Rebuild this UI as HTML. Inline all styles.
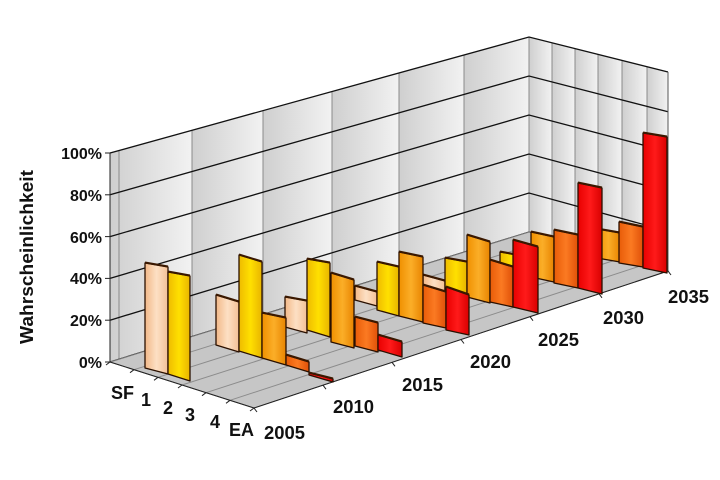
<!DOCTYPE html>
<html><head><meta charset="utf-8"><style>
html,body{margin:0;padding:0;background:#fff;}
svg{display:block;}
text{font-family:"Liberation Sans",Arial,sans-serif;font-weight:bold;fill:#111;}
</style></head><body>
<svg id="s" width="720" height="480" viewBox="0 0 720 480" xmlns="http://www.w3.org/2000/svg">
<defs>
<linearGradient id="wall" x1="0" x2="1" y1="0" y2="0"><stop offset="0" stop-color="#cfcfcf"/><stop offset="1" stop-color="#f2f2f2"/></linearGradient>
<linearGradient id="gP" x1="0" x2="1"><stop offset="0" stop-color="#f2b888"/><stop offset="0.5" stop-color="#fde0c4"/><stop offset="1" stop-color="#f3c096"/></linearGradient>
<linearGradient id="gY" x1="0" x2="1"><stop offset="0" stop-color="#eebb00"/><stop offset="0.5" stop-color="#ffe000"/><stop offset="1" stop-color="#e8b400"/></linearGradient>
<linearGradient id="gO" x1="0" x2="1"><stop offset="0" stop-color="#f09000"/><stop offset="0.5" stop-color="#fbae28"/><stop offset="1" stop-color="#e88400"/></linearGradient>
<linearGradient id="gD" x1="0" x2="1"><stop offset="0" stop-color="#e85c08"/><stop offset="0.5" stop-color="#fb7a22"/><stop offset="1" stop-color="#e05008"/></linearGradient>
<linearGradient id="gR" x1="0" x2="1"><stop offset="0" stop-color="#e80000"/><stop offset="0.5" stop-color="#ff1a1a"/><stop offset="1" stop-color="#d80000"/></linearGradient>
</defs>
<g id="walls"></g>
<g id="bars"></g>
<g id="labels">
<text x="102" y="159" font-size="16" text-anchor="end">100%</text>
<text x="102" y="201" font-size="16" text-anchor="end">80%</text>
<text x="102" y="243" font-size="16" text-anchor="end">60%</text>
<text x="102" y="284" font-size="16" text-anchor="end">40%</text>
<text x="102" y="326" font-size="16" text-anchor="end">20%</text>
<text x="102" y="368" font-size="16" text-anchor="end">0%</text>
<text transform="translate(33,257) rotate(-90)" font-size="18" text-anchor="middle" textLength="174" lengthAdjust="spacingAndGlyphs">Wahrscheinlichkeit</text>
<text x="111" y="399" font-size="18">SF</text>
<text x="141" y="406" font-size="18">1</text>
<text x="163" y="414" font-size="18">2</text>
<text x="185" y="421" font-size="18">3</text>
<text x="210" y="428" font-size="18">4</text>
<text x="229" y="436" font-size="18">EA</text>
<text x="264" y="439" font-size="18" textLength="41" lengthAdjust="spacingAndGlyphs">2005</text>
<text x="333" y="413" font-size="18" textLength="41" lengthAdjust="spacingAndGlyphs">2010</text>
<text x="402" y="391" font-size="18" textLength="41" lengthAdjust="spacingAndGlyphs">2015</text>
<text x="470" y="368" font-size="18" textLength="41" lengthAdjust="spacingAndGlyphs">2020</text>
<text x="538" y="346" font-size="18" textLength="41" lengthAdjust="spacingAndGlyphs">2025</text>
<text x="603" y="324" font-size="18" textLength="41" lengthAdjust="spacingAndGlyphs">2030</text>
<text x="668" y="303" font-size="18" textLength="41" lengthAdjust="spacingAndGlyphs">2035</text>
</g>
</svg>
<script>
var NS="http://www.w3.org/2000/svg";
function el(p,t,a){var e=document.createElementNS(NS,t);for(var k in a)e.setAttribute(k,a[k]);p.appendChild(e);return e;}
function pts(a){return a.map(function(p){return p[0]+","+p[1]}).join(" ");}
var W=document.getElementById("walls");
var vx=[119,192,263,332,399,464,529];
function yAt(x,base){var t=(x-110)/(529-110);return base[0]+(base[1]-base[0])*t;}
for(var i=0;i<vx.length-1;i++){
  var xa=(i==0?110:vx[i]),xb=vx[i+1];
  el(W,"polygon",{points:pts([[xa,yAt(xa,[153,37])],[xb,yAt(xb,[153,37])],[xb,yAt(xb,[362,232])],[xa,yAt(xa,[362,232])]]),fill:"url(#wall)"});
}
var rx=[529,552,575,598,622,647,668];
function ryT(x){return 37+(x-529)/(668-529)*35;}
function ryB(x){return 232+(x-529)/(668-529)*39;}
for(var i=0;i<6;i++){
  var xa=rx[i],xb=rx[i+1];
  el(W,"polygon",{points:pts([[xa,ryT(xa)],[xb,ryT(xb)],[xb,ryB(xb)],[xa,ryB(xa)]]),fill:"url(#wall)"});
}
vx.forEach(function(x){el(W,"line",{x1:x,y1:yAt(x,[153,37]),x2:x,y2:yAt(x,[362,232]),stroke:"#8a8a8a","stroke-width":1});});
rx.forEach(function(x){el(W,"line",{x1:x,y1:ryT(x),x2:x,y2:ryB(x),stroke:"#8a8a8a","stroke-width":1});});
for(var k=0;k<=5;k++){
  var yl=362-41.8*k, yr=232-39*k, yf=271-39.8*k;
  el(W,"polyline",{points:pts([[110,yl],[529,yr],[668,yf]]),fill:"none",stroke:"#111","stroke-width":1.3});
}
el(W,"line",{x1:668,y1:72,x2:668,y2:271,stroke:"#555","stroke-width":1});
var F0=[110,362],F1=[529,232],F2=[668,271],F3=[254,408];
el(W,"polygon",{points:pts([F0,F1,F2,F3]),fill:"#c6c6c6",stroke:"#777","stroke-width":1});
for(var j=1;j<6;j++){
  var t=j/6;
  var a=[F0[0]+(F3[0]-F0[0])*t,F0[1]+(F3[1]-F0[1])*t],b=[F1[0]+(F2[0]-F1[0])*t,F1[1]+(F2[1]-F1[1])*t];
  el(W,"line",{x1:a[0],y1:a[1],x2:b[0],y2:b[1],stroke:"#8c8c8c","stroke-width":1});
}
el(W,"line",{x1:110,y1:153,x2:110,y2:362,stroke:"#222","stroke-width":1});
for(var k=0;k<=5;k++){var y=362-41.8*k;el(W,"line",{x1:105,y1:y,x2:110,y2:y,stroke:"#222"});}
el(W,"line",{x1:F0[0],y1:F0[1],x2:F3[0],y2:F3[1],stroke:"#222"});
el(W,"line",{x1:F3[0],y1:F3[1],x2:F2[0],y2:F2[1],stroke:"#222"});
for(var j=0;j<=6;j++){var t=j/6;var x=F0[0]+(F3[0]-F0[0])*t,y=F0[1]+(F3[1]-F0[1])*t;el(W,"line",{x1:x,y1:y,x2:x-4,y2:y+3,stroke:"#222"});}
for(var j=0;j<=6;j++){var t=j/6;var x=F3[0]+(F2[0]-F3[0])*t,y=F3[1]+(F2[1]-F3[1])*t;el(W,"line",{x1:x,y1:y,x2:x+3,y2:y+4,stroke:"#222"});}
var C={P:"url(#gP)",Y:"url(#gY)",O:"url(#gO)",D:"url(#gD)",R:"url(#gR)"};
var bars=[
[597,620,229,233,258,262,"O"],[619,643,222,227,263,267,"D"],[643,667,133,137,268,273,"R"],
[500,522,252,256,285,290,"Y"],[531,554,232,237,277,282,"O"],[554,578,230,235,283,288,"D"],[578,602,183,188,288,294,"R"],
[423,445,275,281,290,296,"P"],[445,467,258,262,293,298,"Y"],[467,490,235,242,297,303,"O"],[490,513,260,267,302,307,"D"],[513,538,240,247,307,313,"R"],
[355,377,286,292,300,306,"P"],[377,399,262,267,310,316,"Y"],[399,423,252,257,316,322,"O"],[423,446,285,292,323,328,"D"],[446,469,287,295,330,335,"R"],
[285,307,297,301,327,333,"P"],[307,330,259,263,330,337,"Y"],[331,354,273,280,342,348,"O"],[355,378,317,323,346,352,"D"],[378,402,335,342,350,357,"R"],
[216,239,295,302,345,352,"P"],[239,262,255,262,351,358,"Y"],[262,286,313,318,358,365,"O"],[286,309,355,362,365,372,"D"],[309,333,373,379,375,382,"R"],
[145,168,263,267,368,374,"P"],[168,190,272,276,374,381,"Y"]
];
var B=document.getElementById("bars");
bars.forEach(function(b){
  el(B,"polygon",{points:pts([[b[0],b[2]],[b[1],b[3]],[b[1],b[5]],[b[0],b[4]]]),fill:C[b[6]],stroke:"#2a1000","stroke-width":1.3,"stroke-linejoin":"round"});
  el(B,"line",{x1:b[0],y1:b[2]-0.5,x2:b[1],y2:b[3]-0.5,stroke:"#3a1800","stroke-width":2});
});
</script>
</body></html>
